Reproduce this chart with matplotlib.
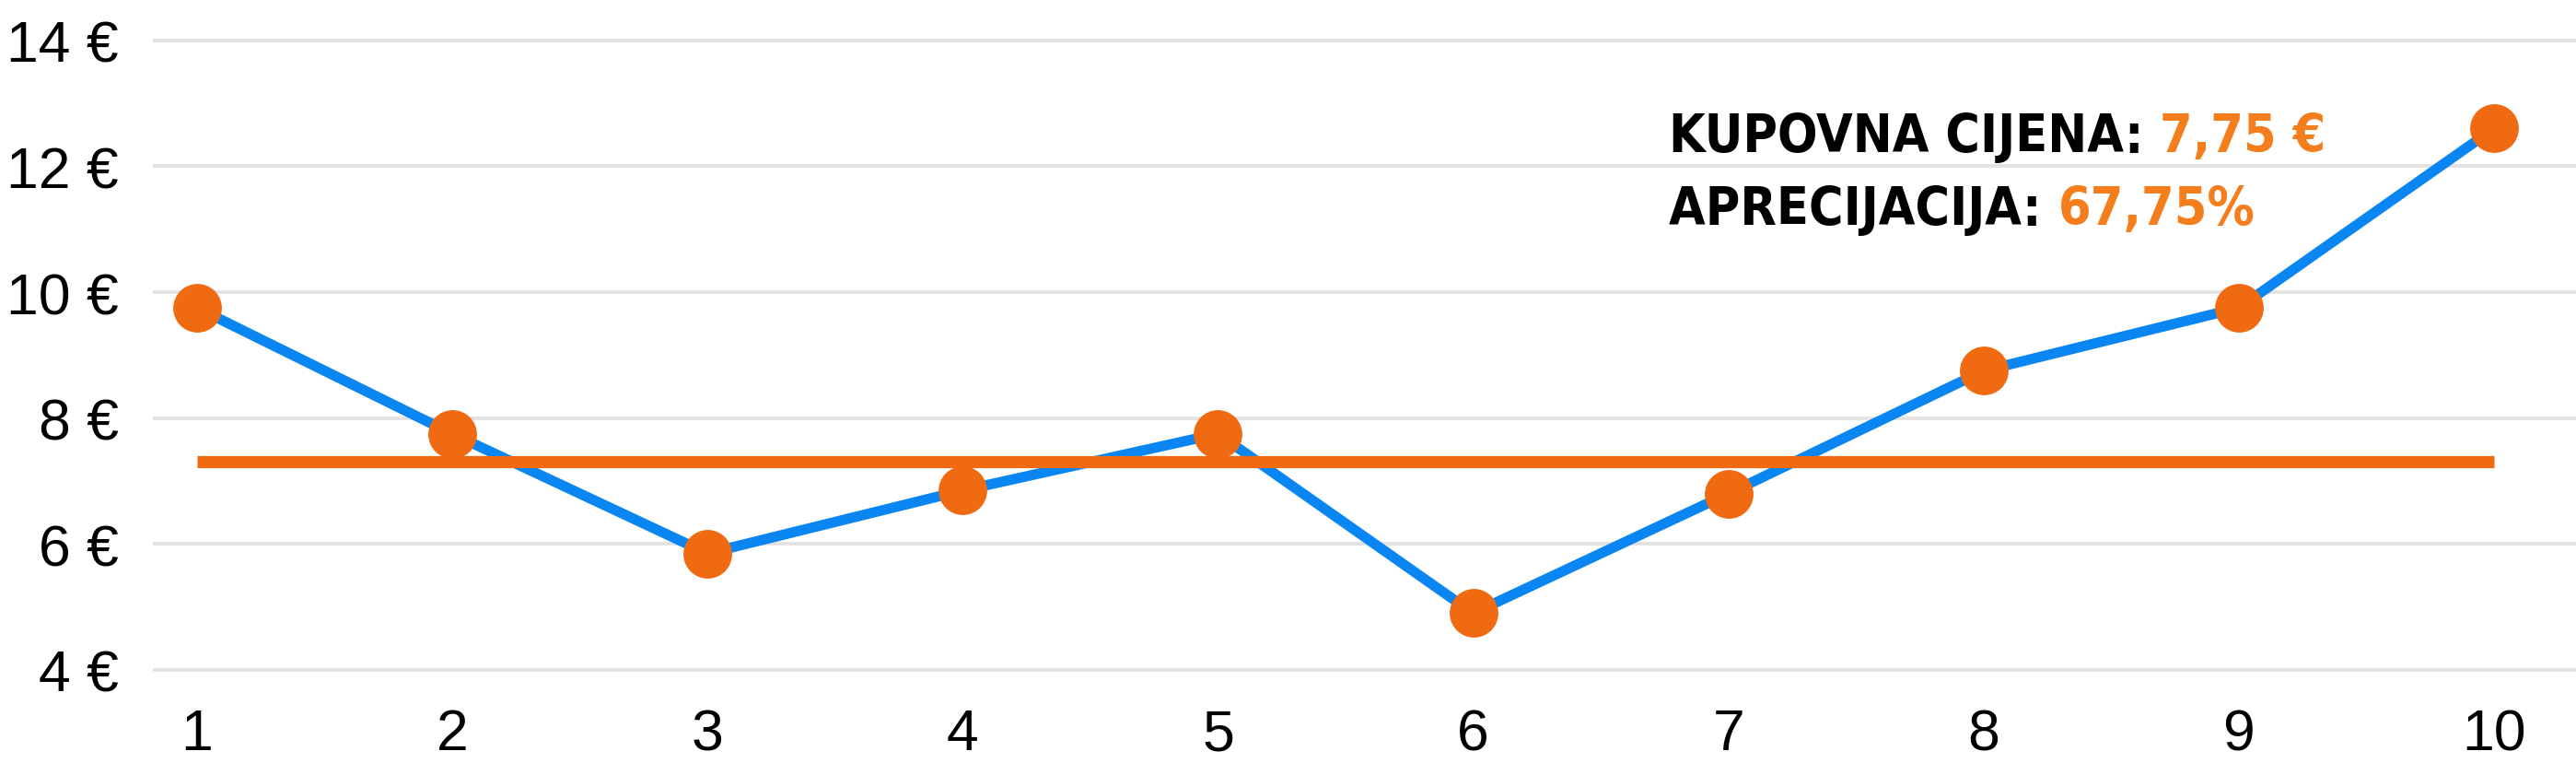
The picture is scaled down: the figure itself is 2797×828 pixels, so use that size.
import matplotlib
matplotlib.use("Agg")
import matplotlib.pyplot as plt
from matplotlib import font_manager as fm

# ---------------- data ----------------
periods = [1, 2, 3, 4, 5, 6, 7, 8, 9, 10]
prices = [9.75, 7.75, 5.85, 6.85, 7.75, 4.9, 6.8, 8.75, 9.75, 12.6]
purchase_level = 7.3
y_ticks = [4, 6, 8, 10, 12, 14]
y_tick_labels = [f"{v} €" for v in y_ticks]
x_tick_labels = [str(p) for p in periods]
label_line1 = "KUPOVNA CIJENA: "
value_line1 = "7,75 €"
label_line2 = "APRECIJACIJA: "
value_line2 = "67,75%"

# ---------------- style ----------------
BLUE = "#0A86F3"
ORANGE = "#F06A12"
TEXT_ORANGE = "#F47E1C"
GRID = "#E1E1E1"

W, H = 2797, 829
fig = plt.figure(figsize=(W / 100, H / 100), dpi=100)
ax = fig.add_axes([166 / W, 1 - 734.8 / H, 1 - 166 / W, 710.6 / H])

ax.plot(periods, prices, color=BLUE, lw=8, zorder=3, solid_joinstyle="round")
ax.plot(periods, prices, linestyle="none", marker="o", markersize=37,
        markerfacecolor=ORANGE, markeredgecolor=ORANGE, zorder=4)
ax.plot([periods[0], periods[-1]], [purchase_level, purchase_level],
        color=ORANGE, lw=9.5, solid_capstyle="butt", zorder=5)

ax.set_xlim(0.827, 10.321)
ax.set_ylim(3.9, 14.3)
ax.set_yticks(y_ticks)
ax.set_yticklabels(y_tick_labels)
ax.set_xticks(periods)
ax.set_xticklabels(x_tick_labels)
ax.yaxis.grid(True, color=GRID, lw=2.6)
ax.set_axisbelow(True)
for s in ax.spines.values():
    s.set_visible(False)
ax.tick_params(axis="both", length=0, labelsize=45)
ax.tick_params(axis="y", pad=27)
ax.tick_params(axis="x", pad=24)
for lbl in ax.get_xticklabels() + ax.get_yticklabels():
    lbl.set_fontfamily(["Liberation Sans", "DejaVu Sans"])

# condensed heading font
names = {f.name for f in fm.fontManager.ttflist}
cond_kw = dict(family="DejaVu Sans", weight="bold", size=38)
if "Liberation Sans Narrow" in names:
    cond_kw = dict(family="Liberation Sans Narrow", weight="bold", size=50)
elif any(f.name == "DejaVu Sans" and f.stretch == "condensed" for f in fm.fontManager.ttflist):
    cond_kw = dict(family="DejaVu Sans", stretch="condensed", weight="bold", size=41)

x0 = 1812 / W
for base_px, lab, val in [(165, label_line1, value_line1), (244, label_line2, value_line2)]:
    t = fig.text(x0, 1 - base_px / H, lab, color="black", ha="left", va="baseline", **cond_kw)
    ax.annotate(val, xy=(1, 0), xycoords=t, ha="left", va="bottom",
                color=TEXT_ORANGE, annotation_clip=False, **cond_kw)

fig.savefig("out.png", dpi=100)
